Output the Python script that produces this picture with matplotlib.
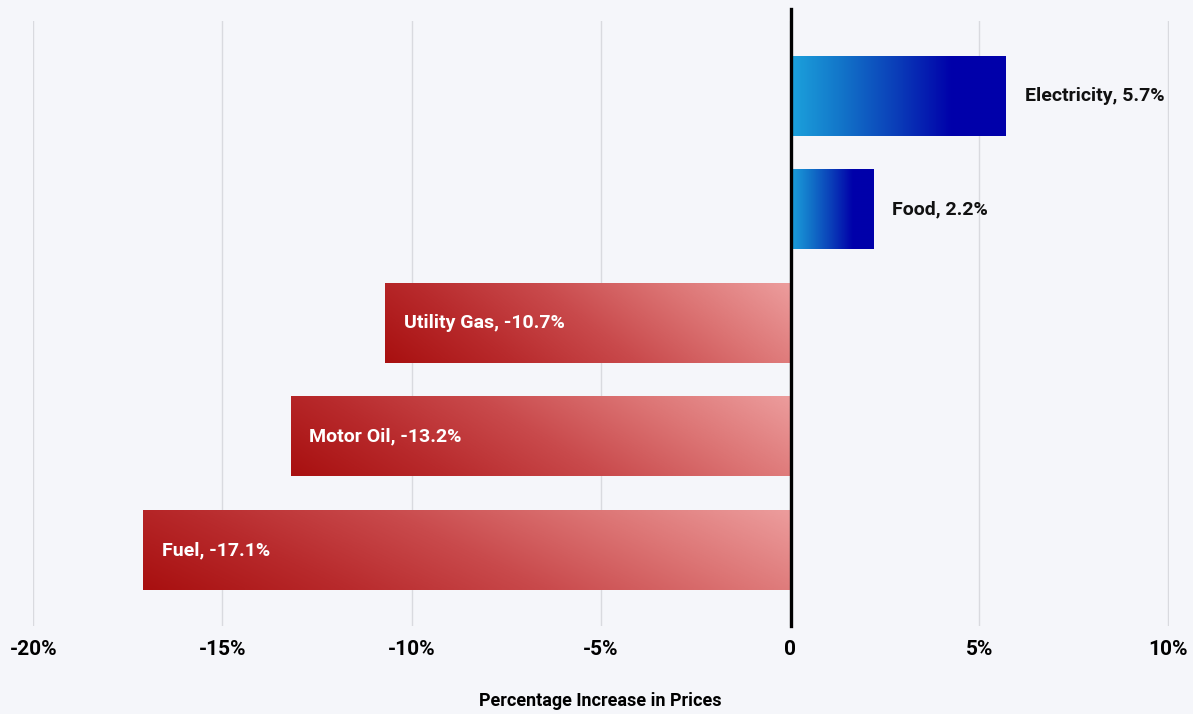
import numpy as np
import matplotlib.pyplot as plt
from matplotlib.colors import LinearSegmentedColormap

categorias = ['Fuel', 'Motor Oil', 'Utility Gas', 'Food', 'Electricity']
valores = [-17.1, -13.2, -10.7, 2.2, 5.7]
ticks_x = [-20, -15, -10, -5, 0, 5, 10]
etiquetas_x = ['-20%', '-15%', '-10%', '-5%', '0', '5%', '10%']

fondo = '#f5f6fa'
plt.rcParams['font.family'] = ['Roboto', 'DejaVu Sans']

azul = LinearSegmentedColormap.from_list(
    'azul', ['#1ca3dc', '#1272c8', '#0a3cb8', '#0000aa', '#0000aa'])
rojo = LinearSegmentedColormap.from_list(
    'rojo', ['#a81010', '#b82a2c', '#c94a4c', '#dc7474', '#ec9c9c'])

fig = plt.figure(figsize=(11.93, 7.14), dpi=100, facecolor=fondo)
ax = fig.add_axes([32.5 / 1193, 1 - 626 / 714, 1136.6 / 1193, 605 / 714])
ax.set_facecolor(fondo)

alto = 0.7
nx, ny = 256, 32
xx, yy = np.meshgrid(np.linspace(0, 1, nx), np.linspace(0, 1, ny))
for i, (cat, v) in enumerate(zip(categorias, valores)):
    y0, y1 = i - alto / 2, i + alto / 2
    if v > 0:
        img = azul(xx)
        ax.imshow(img, extent=[0, v, y0, y1], aspect='auto', origin='lower',
                  interpolation='bilinear', zorder=2)
        ax.text(v + 0.5, i, f'{cat}, {v}%', va='center', ha='left',
                fontsize=14, fontweight='bold', color='#111111', zorder=4)
    else:
        t = np.clip(0.8 * xx + 0.2 * yy, 0, 1)
        img = rojo(t)
        ax.imshow(img, extent=[v, 0, y0, y1], aspect='auto', origin='lower',
                  interpolation='bilinear', zorder=2)
        ax.text(v + 0.5, i, f'{cat}, {v}%', va='center', ha='left',
                fontsize=14, fontweight='bold', color='white', zorder=4)

# linea del cero, un poco mas alta que la rejilla
ax.axvline(0.04, ymin=0, ymax=1.02, color='black', linewidth=2.4,
           zorder=3, clip_on=False)
ax.set_xlim(-20.02, 10.02)
ax.set_ylim(-0.67, 4.66)
ax.set_xticks(ticks_x)
ax.set_xticklabels(etiquetas_x, fontsize=15, fontweight='bold')
ax.set_yticks([])
ax.grid(axis='x', color='#d9dadf', linewidth=1, zorder=0)
ax.tick_params(axis='x', length=0, pad=10)
for s in ax.spines.values():
    s.set_visible(False)
ax.set_xlabel('Percentage Increase in Prices', fontsize=13, fontweight='bold', labelpad=24)

fig.savefig('out.png', dpi=100, facecolor=fondo)
